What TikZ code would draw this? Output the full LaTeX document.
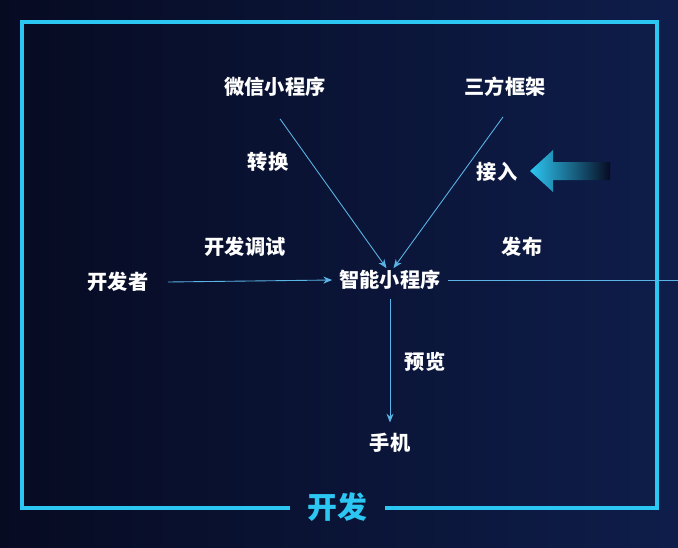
\documentclass[tikz,border=0pt]{standalone}
\usepackage{fontspec}
\newfontfamily\cjk{Noto Sans CJK SC}
\usetikzlibrary{arrows.meta}
\definecolor{bgdark}{HTML}{070B22}
\definecolor{bgblue}{HTML}{0E1D4A}
\definecolor{framecyan}{HTML}{2CC6F2}
\definecolor{linkblue}{HTML}{5AB4E6}
\tikzset{
  label/.style = {text = white, font = \cjk\bfseries\fontsize{11.5}{13}\selectfont, inner sep = 1pt},
  link/.style = {draw = linkblue, line width = 0.5pt, -{Stealth[length = 5pt, width = 4pt]}}
}

\begin{document}
\begin{tikzpicture}[x = 0.02cm, y = -0.02cm]
    \useasboundingbox (0, 0) rectangle (678, 547);
    \shade[left color = bgdark, right color = bgblue] (0, 0) rectangle (678, 547);

    % frame with gap for the title
    \draw[framecyan, line width = 2.6pt]
      (290, 508) -- (22, 508) -- (22, 22) -- (657, 22) -- (657, 508) -- (385, 508);
    \node[text = framecyan, font = \cjk\bfseries\fontsize{17}{20}\selectfont] (title) at (337, 507) {开发};

    % nodes
    \node[label] (wechat) at (275, 87) {微信小程序};
    \node[label] (third) at (505, 87) {三方框架};
    \node[label] (core) at (390, 280) {智能小程序};
    \node[label] (dev) at (118, 282) {开发者};
    \node[label] (phone) at (390, 443) {手机};
    \coordinate (out) at (678, 280);

    % edge labels
    \node[label] (convert) at (268, 162) {转换};
    \node[label] (access) at (497, 172) {接入};
    \node[label] (debug) at (245, 247) {开发调试};
    \node[label] (publish) at (522, 247) {发布};
    \node[label] (preview) at (425, 362) {预览};

    % connectors
    \draw[link] ([shift = {(5, 20)}]wechat.south) -- ([xshift = -2pt]core.north);
    \draw[link] ([shift = {(-2, 18)}]third.south) -- ([xshift = 2pt]core.north);
    \draw[link] ([xshift = 10pt]dev.east) -- ([xshift = -3pt]core.west);
    \draw[draw = linkblue, line width = 0.5pt] ([xshift = 3pt]core.east) -- (out);
    \draw[link] ([yshift = -4pt]core.south) -- ([yshift = 5pt]phone.north);

    % incoming arrow
    \shade[left color = framecyan, right color = bgdark]
      (530, 171) -- (553, 150) -- (553, 162) -- (610, 162) -- (610, 180) -- (553, 180) -- (553, 192) -- cycle;
\end{tikzpicture}
\end{document}
